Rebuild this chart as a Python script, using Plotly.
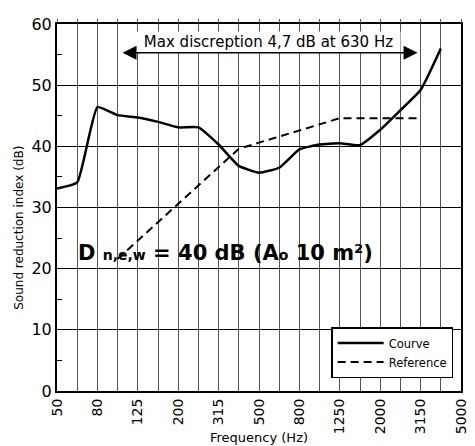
import plotly.graph_objects as go

freqs = ["50", "63", "80", "100", "125", "160", "200", "250", "315", "400", "500",
         "630", "800", "1000", "1250", "1600", "2000", "2500", "3150", "4000", "5000"]
labelled = ["50", "80", "125", "200", "315", "500", "800", "1250", "2000", "3150", "5000"]

courve_freqs = freqs[:20]
courve = [33.1, 34.1, 46.4, 45.1, 44.7, 44.0, 43.1, 43.1, 40.3, 36.8, 35.7,
          36.5, 39.5, 40.3, 40.5, 40.2, 42.7, 45.9, 49.2, 56.0]

ref_freqs = freqs[3:19]
reference = [21.6, 24.6, 27.6, 30.6, 33.6, 36.6, 39.6, 40.6, 41.6, 42.6, 43.6,
             44.6, 44.6, 44.6, 44.6, 44.6]

idx = {f: i for i, f in enumerate(freqs)}
FONT = "DejaVu Sans"

L, R, T, B = 57, 469, 24, 391  # plot area in px
W, H = R - L, B - T


def px(xp):
    return (xp - L) / W


def py(yp):
    return (B - yp) / H


fig = go.Figure()
fig.add_trace(go.Scatter(
    x=[idx[f] for f in courve_freqs], y=courve, name="Courve", mode="lines",
    line=dict(color="black", width=2.5, shape="spline", smoothing=0.4),
))
fig.add_trace(go.Scatter(
    x=[idx[f] for f in ref_freqs], y=reference, name="Reference", mode="lines",
    line=dict(color="black", width=2, dash="8px,5px"),
))
# empty trace to carry the top tick axis
fig.add_trace(go.Scatter(x=[None], y=[None], xaxis="x2", showlegend=False,
                         hoverinfo="skip"))

ticktext = [f if f in labelled else "" for f in freqs]

fig.update_layout(
    width=475, height=446,
    margin=dict(l=L, r=475 - R, t=T, b=446 - B),
    paper_bgcolor="white", plot_bgcolor="white",
    font=dict(family=FONT, color="black"),
    xaxis=dict(
        range=[0, 20], tickmode="array", tickvals=list(range(len(freqs))),
        ticktext=ticktext, tickangle=-90, tickfont=dict(size=14, family=FONT),
        ticklabeloverflow="allow",
        showgrid=True, gridcolor="#555555", gridwidth=1,
        showline=True, linecolor="black", linewidth=2, mirror=True,
        ticks="", zeroline=False,
    ),
    xaxis2=dict(
        range=[0, 20], overlaying="x", side="top", anchor="y",
        tickmode="array", tickvals=list(range(len(freqs))),
        ticks="outside", ticklen=4, tickcolor="#555555", tickwidth=1,
        showticklabels=False, showgrid=False, zeroline=False, showline=False,
    ),
    yaxis=dict(
        range=[0, 60], tickmode="linear", tick0=0, dtick=10,
        tickfont=dict(size=16, family=FONT),
        showgrid=True, gridcolor="black", gridwidth=1,
        showline=True, linecolor="black", linewidth=2, mirror=True,
        ticks="", zeroline=False,
        minor=dict(dtick=5, ticks="inside", ticklen=5, tickcolor="black",
                   tickwidth=1, showgrid=False),
    ),
    legend=dict(
        x=px(461), y=py(378), xanchor="right", yanchor="bottom",
        bgcolor="white", bordercolor="black", borderwidth=1.5,
        font=dict(size=11.5, family=FONT), tracegroupgap=0, itemwidth=46,
    ),
    showlegend=True,
)

# white box behind the discrepancy label, with side edges
fig.add_annotation(
    text="Max discreption 4,7 dB at 630 Hz", xref="paper", yref="paper",
    x=px(273), y=py(42), xanchor="center", yanchor="middle",
    showarrow=False, bgcolor="white", borderpad=0, width=263, height=20,
    font=dict(size=15, family=FONT),
)
for xe in (141, 405):
    fig.add_shape(type="line", xref="paper", yref="paper",
                  x0=px(xe), x1=px(xe), y0=py(32), y1=py(53),
                  line=dict(color="black", width=1))
fig.add_annotation(
    x=17.85, y=55.3, ax=3.17, ay=55.3, xref="x", yref="y", axref="x", ayref="y",
    text="", showarrow=True, arrowhead=2, startarrowhead=2, arrowside="end+start",
    arrowsize=2, startarrowsize=2, arrowwidth=1.4, arrowcolor="black",
)
fig.add_annotation(
    text="<b>D <span style='font-size:14px'>n,e,w</span> = 40 dB "
         "(A<span style='font-size:14px'>o</span> 10 m²)</b>",
    xref="paper", yref="paper", x=px(229), y=py(253),
    xanchor="center", yanchor="middle", showarrow=False,
    font=dict(size=21, family=FONT),
)
fig.add_annotation(
    text="Frequency (Hz)", xref="paper", yref="paper",
    x=0.5, y=py(437), xanchor="center", yanchor="middle",
    showarrow=False, font=dict(size=13, family=FONT),
)
fig.add_annotation(
    text="Sound reduction index (dB)", xref="paper", yref="paper",
    x=px(18), y=py(228), xanchor="center", yanchor="middle",
    textangle=-90, showarrow=False, font=dict(size=12, family=FONT),
)

fig.write_html("out.html", config={"displayModeBar": False},
               post_script="document.body.style.margin='0px';"
                           "document.body.style.overflow='hidden';")
